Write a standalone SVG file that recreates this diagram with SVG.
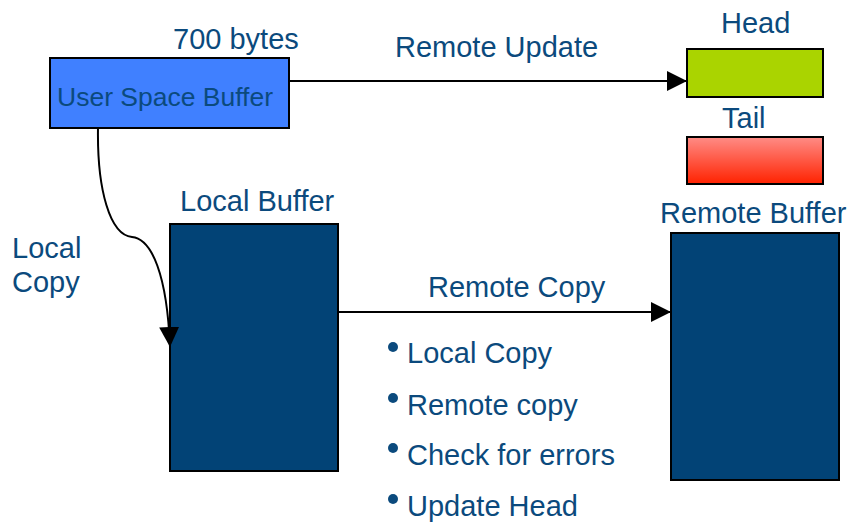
<svg xmlns="http://www.w3.org/2000/svg" width="848" height="522" viewBox="0 0 848 522">
  <defs>
    <linearGradient id="tailFill" x1="0" y1="0" x2="0" y2="1">
      <stop offset="0" stop-color="#ff8c86"/>
      <stop offset="1" stop-color="#ff2200"/>
    </linearGradient>
    <marker id="arrow" viewBox="0 0 20 20" refX="20" refY="10" markerWidth="20" markerHeight="20" markerUnits="userSpaceOnUse" orient="auto">
      <path d="M0,0 L20,10 L0,20 Z" fill="#000"/>
    </marker>
    <style>
      .lbl { font-family: "Liberation Sans", Arial, sans-serif; font-size: 29px; fill: #0b4a7d; }
      .box { stroke: #000; stroke-width: 2; }
      .dark { fill: #024376; }
      .conn { fill: none; stroke: #000; stroke-width: 2; }
      .dot { fill: #0b4a7d; }
    </style>
  </defs>
  <rect width="848" height="522" fill="#fff"/>

  <g id="user-space-buffer">
    <rect class="box" x="50" y="58" width="239" height="70" fill="#4080ff"/>
    <text class="lbl" x="57" y="106" style="font-size:26.5px">User Space Buffer</text>
    <text class="lbl" x="173" y="49">700 bytes</text>
  </g>

  <g id="head">
    <text class="lbl" x="721" y="33">Head</text>
    <rect class="box" x="687" y="49" width="136" height="48" fill="#aad400"/>
  </g>

  <g id="tail">
    <text class="lbl" x="722" y="128">Tail</text>
    <rect class="box" x="687" y="137" width="136" height="47" fill="url(#tailFill)"/>
  </g>

  <g id="local-buffer">
    <text class="lbl" x="180" y="211">Local Buffer</text>
    <rect class="box dark" x="170" y="224" width="168" height="247"/>
  </g>

  <g id="remote-buffer">
    <text class="lbl" x="660" y="223">Remote Buffer</text>
    <rect class="box dark" x="671" y="233" width="168" height="247"/>
  </g>

  <g id="steps">
    <circle class="dot" cx="393" cy="347" r="5"/>
    <text class="lbl" x="407" y="363">Local Copy</text>
    <circle class="dot" cx="393" cy="398" r="5"/>
    <text class="lbl" x="407" y="415">Remote copy</text>
    <circle class="dot" cx="393" cy="448" r="5"/>
    <text class="lbl" x="407" y="465">Check for errors</text>
    <circle class="dot" cx="393" cy="499" r="5"/>
    <text class="lbl" x="407" y="516">Update Head</text>
  </g>

  <g id="connectors">
    <path class="conn" d="M289,81 L687,81" marker-end="url(#arrow)"/>
    <text class="lbl" x="395" y="57">Remote Update</text>
    <path class="conn" d="M98,128 C97,190 110,235 132,237 C152,239 167,275 170,347" marker-end="url(#arrow)"/>
    <text class="lbl" x="12" y="258">Local</text>
    <text class="lbl" x="12" y="292">Copy</text>
    <path class="conn" d="M338,312 L671,312" marker-end="url(#arrow)"/>
    <text class="lbl" x="428" y="297">Remote Copy</text>
  </g>
</svg>
